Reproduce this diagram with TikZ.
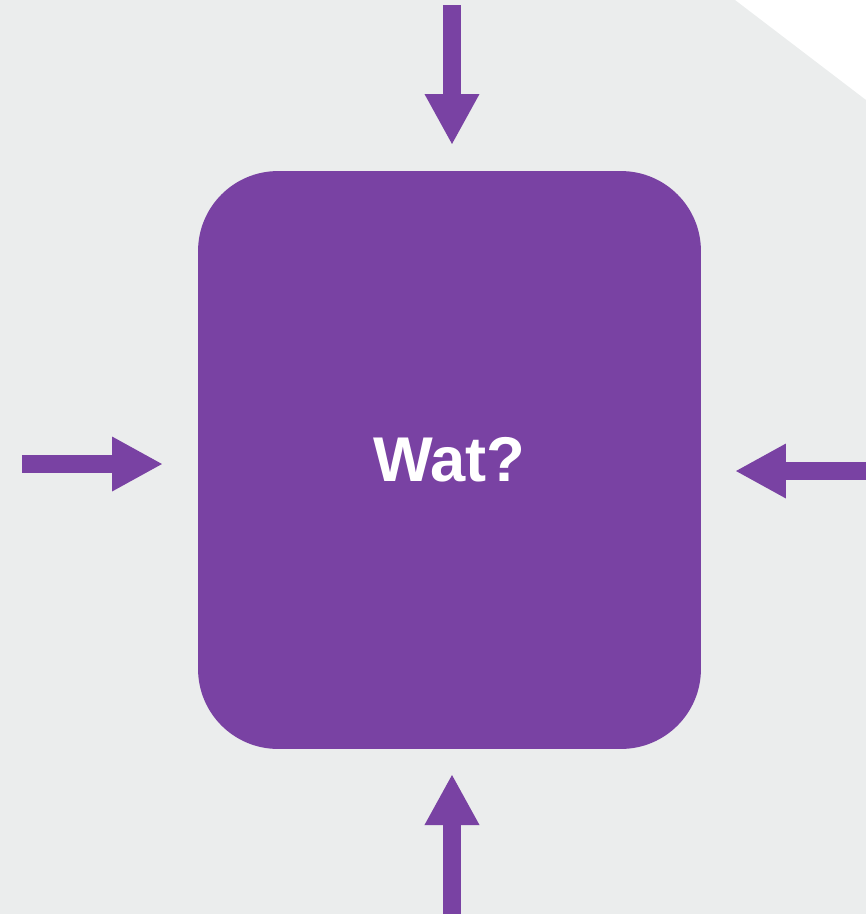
\documentclass[tikz,border=0pt]{standalone}
\usepackage{fontspec}
\setmainfont{Liberation Sans}
\usetikzlibrary{arrows.meta}
\definecolor{bgray}{HTML}{EBEDED}
\definecolor{wat}{HTML}{7942A3}
\tikzset{
  watbox/.style={fill=wat,rounded corners=1.6cm,minimum width=10.06cm,
    minimum height=11.56cm,inner sep=0pt,text=white,
    font=\fontsize{36}{40}\selectfont\bfseries},
  arr/.style={-{Triangle[length=1.02cm,width=1.02cm]},draw=wat,line width=0.36cm},
}
\begin{document}
\begin{tikzpicture}[x=0.02cm,y=-0.02cm]
  \useasboundingbox (0,0) rectangle (866,914);
  \fill[bgray] (0,0) -- (735,0) -- (866,100) -- (866,914) -- (0,914) -- cycle;
  \node[watbox] (box) at (449.5,460) {Wat?};
  % free ends of the arrows
  \coordinate (ntail) at (452,5);
  \coordinate (nhead) at (452,145);
  \coordinate (wtail) at (22,464);
  \coordinate (whead) at (163,464);
  \coordinate (etail) at (866,471);
  \coordinate (ehead) at (735,471);
  \coordinate (stail) at (452,914);
  \coordinate (shead) at (452,774);
  \draw[arr] (ntail) -- (nhead);
  \draw[arr] (wtail) -- (whead);
  \draw[arr] (etail) -- (ehead);
  \draw[arr] (stail) -- (shead);
\end{tikzpicture}
\end{document}
